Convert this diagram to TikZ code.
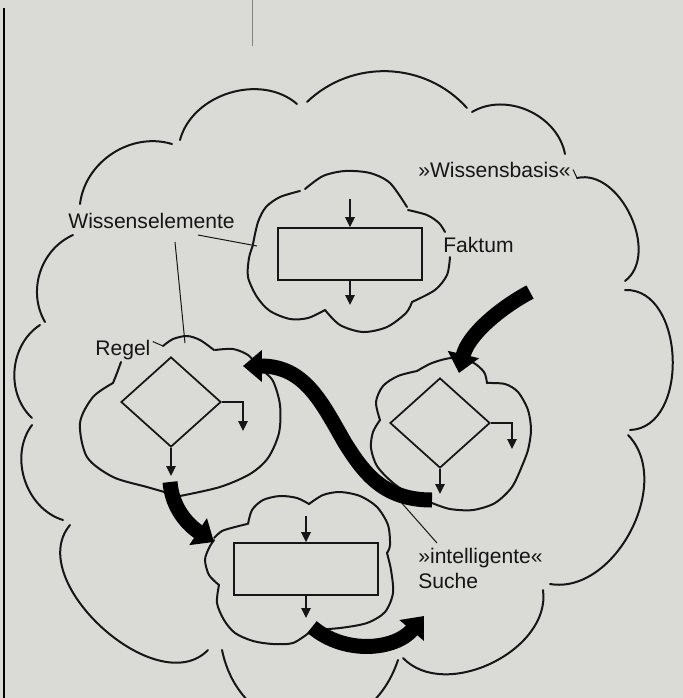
\documentclass[tikz,border=0pt]{standalone}
\usepackage{fontspec}
\setmainfont{Liberation Sans}
\usetikzlibrary{arrows.meta,shapes.geometric}
\definecolor{paper}{RGB}{218,218,215}
\definecolor{ink}{RGB}{22,22,22}

\begin{document}
\begin{tikzpicture}[x=0.02cm, y=-0.02cm,
    bump/.style={line width=0.04cm, color=ink, line cap=round},
    elembox/.style={draw=ink, line width=0.035cm, minimum width=2.88cm, minimum height=1.04cm, inner sep=0},
    elemdia/.style={draw=ink, diamond, line width=0.035cm, minimum width=2cm, minimum height=1.8cm, inner sep=0},
    flow/.style={-{Triangle[length=0.2cm, width=0.19cm]}, line width=0.03cm, color=ink},
    bigflow/.style={-{Triangle[length=0.38cm, width=0.62cm]}, line width=0.3cm, color=black},
    leader/.style={line width=0.02cm, color=ink},
    lbl/.style={inner sep=0, anchor=base west, text=ink, font=\fontsize{12}{14}\selectfont}]%{{{

    \useasboundingbox (0,0) rectangle (683,698);
    \clip (0,0) rectangle (683,698);
    \fill [paper] (0,0) rectangle (683,698);
    \draw [line width=0.06cm, color=black] (4,8) -- (4,698);
    \draw [line width=0.02cm, color=gray] (252,0) -- (252,46);

    % labels
    \node (wbasis) [lbl] at (418,177) {»Wissensbasis«};
    \node (welem) [lbl] at (68,228) {Wissenselemente};
    \node (faktum) [lbl] at (443,252) {Faktum};
    \node (regel) [lbl] at (95,355) {Regel};
    \node (intel) [lbl] at (418,563) {»intelligente«};
    \node (suche) [lbl] at (418,588) {Suche};

    % leader lines
    \coordinate (welemA) at (198,235);
    \coordinate (welemB) at (175,242);
    \coordinate (faktcloud) at (257,246);
    \coordinate (regelcloud) at (185,343);
    \coordinate (basisend) at (577,178);
    \coordinate (intelA) at (437,543);
    \coordinate (searcharrow) at (385,484);
    \draw [leader] (welemA) -- (faktcloud);
    \draw [leader] (welemB) -- (regelcloud);
    \draw [leader] (regel.east) ++(2,-8) -- (163,346);
    \draw [leader] (wbasis.east) ++(2,0) -- (basisend);
    \draw [leader] (intelA) -- (searcharrow);

    % outer cloud
    \draw [bump] (80,204) to [bend left=50] (172,144);
    \draw [bump] (180,140) to [bend left=58] (297,104);
    \draw [bump] (307,102) to [bend left=46] (467,108);
    \draw [bump] (472,112) to [bend left=55] (565,154);
    \draw [bump] (577,178) to [bend left=78] (625,281);
    \draw [bump] (625,290) to [bend left=90, looseness=1.1] (630,430);
    \draw [bump] (628,435) to [bend left=72] (550,584);
    \draw [bump] (543,590) to [bend left=72] (403,658);
    \draw [bump] (398,660) to [bend left=75, looseness=1.45] (222,650);
    \draw [bump] (208,650) to [bend left=88] (70,525);
    \draw [bump] (63,520) to [bend left=55] (32,425);
    \draw [bump] (32,418) to [bend left=52] (40,325);
    \draw [bump] (45,322) to [bend left=48] (73,235);

    % Faktum cloud
    \draw [bump] plot [smooth] coordinates {(253,244) (258,222) (266,207) (280,197) (300,191)};
    \draw [bump] plot [smooth] coordinates {(305,189) (323,176) (345,171) (370,173) (390,183) (407,207)};
    \draw [bump] plot [smooth] coordinates {(408,210) (427,215) (439,223) (445,232)};
    \draw [bump] plot [smooth] coordinates {(450,257) (447,275) (435,290) (412,302)};
    \draw [bump] plot [smooth] coordinates {(412,302) (406,313) (387,327) (363,332) (340,325) (325,310)};
    \draw [bump] plot [smooth] coordinates {(325,310) (308,318) (290,319) (270,311) (257,297) (248,277) (249,258) (253,245)};

    % Regel cloud
    \draw [bump] plot [smooth] coordinates {(163,346) (173,339) (187,336) (200,340) (214,350)};
    \draw [bump] plot [smooth] coordinates {(215,350) (233,349) (248,355) (258,366)};
    \draw [bump] plot [smooth] coordinates {(262,370) (273,381) (280,405) (279,433) (268,458) (250,474) (220,487) (180,496)};
    \draw [bump] plot [smooth] coordinates {(168,493) (147,487) (113,477) (87,457) (80,423) (93,397) (113,383)};
    \draw [bump] plot [smooth] coordinates {(113,383) (117,373) (121,362)};

    % cloud of the second rule
    \draw [bump] plot [smooth] coordinates {(380,420) (376,402) (383,386) (398,376) (417,371)};
    \draw [bump] plot [smooth] coordinates {(417,371) (432,363) (452,358) (472,362) (484,372) (487,383)};
    \draw [bump] plot [smooth] coordinates {(487,383) (505,384) (518,392) (528,410) (531,430) (528,450) (522,466)};
    \draw [bump] plot [smooth] coordinates {(522,466) (512,487) (495,503) (473,510) (450,509) (432,503)};
    \draw [bump] plot [smooth] coordinates {(432,503) (412,496) (392,482) (377,466) (371,448) (373,432) (380,420)};

    % Suche cloud
    \draw [bump] plot [smooth] coordinates {(214,538) (222,531) (235,527) (247,524)};
    \draw [bump] plot [smooth] coordinates {(248,524) (252,510) (263,500) (280,496) (297,498) (309,504)};
    \draw [bump] plot [smooth] coordinates {(309,504) (323,495) (340,492) (360,496) (377,507) (388,525) (390,545) (387,553)};
    \draw [bump] plot [smooth] coordinates {(387,553) (391,570) (393,593) (385,612) (367,623) (340,628) (312,630)};
    \draw [bump] plot [smooth] coordinates {(310,632) (293,643) (273,644) (253,641) (235,633) (224,620) (217,603) (219,585)};
    \draw [bump] plot [smooth] coordinates {(219,585) (209,575) (205,560) (209,548) (214,540)};

    % elements
    \node (factbox) [elembox] at (350,254) {};
    \node (searchbox) [elembox] at (306,569) {};
    \node (ruleL) [elemdia] at (171,402) {};
    \node (ruleR) [elemdia] at (440,423) {};

    \coordinate (factin) at (350,199);
    \coordinate (factout) at (350,305);
    \coordinate (searchin) at (306,516);
    \coordinate (searchout) at (306,618);
    \coordinate (ruleLyes) at (243,431);
    \coordinate (ruleLno) at (171,476);
    \coordinate (ruleRyes) at (512,449);
    \coordinate (ruleRno) at (440,494);

    \draw [flow] (factin) -- (factbox.north);
    \draw [flow] (factbox.south) -- (factout);
    \draw [flow] (searchin) -- (searchbox.north);
    \draw [flow] (searchbox.south) -- (searchout);
    \draw [flow] (ruleL.east) -| (ruleLyes);
    \draw [flow] (ruleL.south) -- (ruleLno);
    \draw [flow] (ruleR.east) -| (ruleRyes);
    \draw [flow] (ruleR.south) -- (ruleRno);

    % the search path
    \coordinate (a1s) at (530,292);
    \coordinate (a1e) at (459,373);
    \coordinate (a2s) at (432,500);
    \coordinate (a2m) at (345,443);
    \coordinate (a2e) at (243,366);
    \coordinate (a3s) at (170,482);
    \coordinate (a3e) at (214,542);
    \coordinate (a4s) at (312,627);
    \coordinate (a4e) at (424,616);
    \draw [bigflow] (a1s) .. controls (500,308) and (468,335) .. (a1e);
    \draw [bigflow] (a2s) .. controls (385,500) and (365,475) .. (a2m)
                          .. controls (322,403) and (305,366) .. (a2e);
    \draw [bigflow] (a3s) .. controls (172,508) and (188,525) .. (a3e);
    \draw [bigflow] (a4s) .. controls (345,655) and (395,650) .. (a4e);
  \end{tikzpicture}
\end{document}
